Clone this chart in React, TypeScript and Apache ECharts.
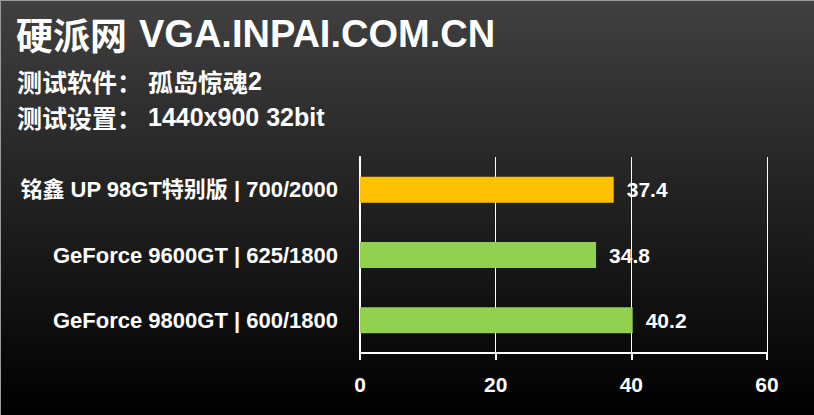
import React, { useEffect, useRef } from "react";
import * as echarts from "echarts";

const categories = ["铭鑫 UP 98GT特别版 | 700/2000", "GeForce 9600GT | 625/1800", "GeForce 9800GT | 600/1800"];
const values = [37.4, 34.8, 40.2];
const barColors = ["#FFC000", "#92D050", "#92D050"];
const titleCn = "硬派网";
const titleEn = "VGA.INPAI.COM.CN";
const sub1Label = "测试软件：";
const sub1ValueCn = "孤岛惊魂";
const sub1ValueEn = "2";
const sub2Label = "测试设置：";
const sub2Value = "1440x900 32bit";
const xTicks = [0, 20, 40, 60];

const FONT = "'Liberation Sans', Arial, 'Noto Sans CJK SC', sans-serif";
const CJK = "'Noto Sans CJK SC', sans-serif";

export default function App() {
  const ref = useRef<HTMLDivElement>(null);
  useEffect(() => {
    if (!ref.current) return;
    const chart = echarts.init(ref.current, undefined, { renderer: "svg" });
    const rich = (cnSize: number, enSize: number, gap: number) => ({
      cn: { fontSize: cnSize, fontFamily: CJK, fontWeight: "bold", color: "#fff" },
      en: { fontSize: enSize, fontFamily: FONT, fontWeight: "bold", color: "#fff" },
      gap: { fontSize: enSize, fontFamily: FONT, width: gap, color: "#fff" },
    });
    chart.setOption({
      animation: false,
      backgroundColor: {
        type: "linear", x: 0, y: 0, x2: 0, y2: 1,
        colorStops: [
          { offset: 0, color: "#404040" },
          { offset: 1, color: "#000000" },
        ],
      },
      graphic: [
        { type: "line", shape: { x1: 0, y1: 0.5, x2: 814, y2: 0.5 }, style: { stroke: "#9a9a9a", lineWidth: 1 } },
        { type: "line", shape: { x1: 0.5, y1: 0, x2: 0.5, y2: 415 }, style: { stroke: "#9a9a9a", lineWidth: 1 } },
        {
          type: "text", x: 16, y: 34,
          style: {
            text: `{cn|${titleCn}}{gap| }{en|${titleEn}}`,
            verticalAlign: "middle",
            fill: "#fff",
            rich: rich(37, 38, 12),
          },
        },
        {
          type: "text", x: 17, y: 81,
          style: {
            text: `{cn|${sub1Label}}{gap| }{cn|${sub1ValueCn}}{en|${sub1ValueEn}}`,
            verticalAlign: "middle",
            fill: "#fff",
            rich: rich(25, 25, 6),
          },
        },
        {
          type: "text", x: 17, y: 117,
          style: {
            text: `{cn|${sub2Label}}{gap| }{en|${sub2Value}}`,
            verticalAlign: "middle",
            fill: "#fff",
            rich: rich(25, 25, 6),
          },
        },
      ],
      grid: { left: 360, right: 47, top: 157, bottom: 62, containLabel: false },
      xAxis: {
        type: "value",
        min: 0,
        max: xTicks[xTicks.length - 1],
        interval: 20,
        axisLine: { show: true, lineStyle: { color: "#fff", width: 2 } },
        axisTick: { show: true, length: 7, lineStyle: { color: "#fff", width: 2 } },
        splitLine: { show: true, lineStyle: { color: "#fff", width: 1 } },
        axisLabel: { color: "#fff", fontSize: 21, fontWeight: "bold", fontFamily: FONT, margin: 21 },
      },
      yAxis: {
        type: "category",
        data: categories,
        inverse: true,
        axisLine: { show: true, lineStyle: { color: "#fff", width: 2 } },
        axisTick: { show: false },
        axisLabel: { color: "#fff", fontSize: 22, fontWeight: "bold", fontFamily: FONT, margin: 22 },
      },
      series: [
        {
          type: "bar",
          data: values.map((v, i) => ({ value: v, itemStyle: { color: barColors[i] } })),
          barWidth: 26,
          label: {
            show: true,
            position: "right",
            distance: 13,
            color: "#fff",
            fontSize: 21,
            fontWeight: "bold",
            fontFamily: FONT,
          },
        },
      ],
    });
    return () => chart.dispose();
  }, []);
  return <div ref={ref} style={{ width: 814, height: 415, position: "fixed", left: 0, top: 0 }} />;
}
